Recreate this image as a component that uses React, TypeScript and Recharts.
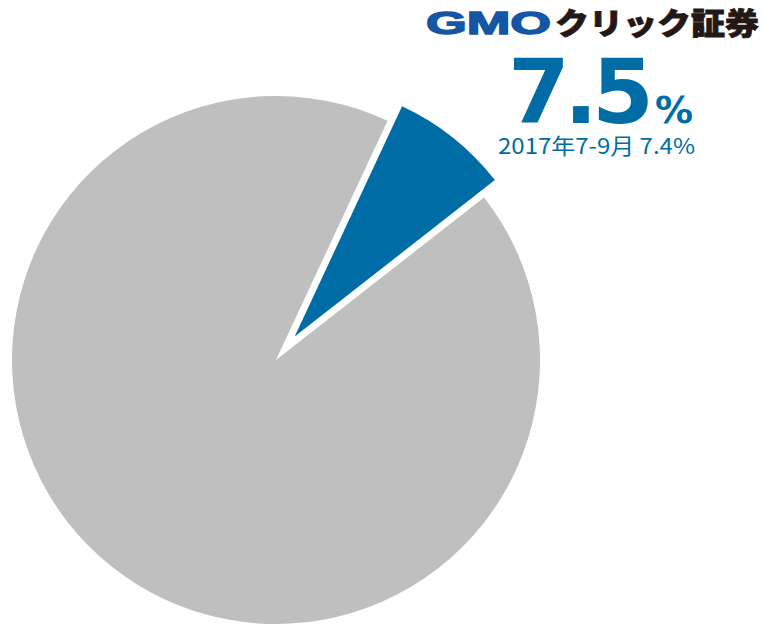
import React from 'react';
import { PieChart, Pie, Cell } from 'recharts';

const categories = ['GMOクリック証券', 'その他'];
const shareValues = [7.5, 92.5];
const headlineValue = '7.5';
const headlineUnit = '%';
const previousLabel = '2017年7-9月 7.4%';
const logoLatin = 'GMO';
const logoKana = 'クリック証券';

const BLUE = '#006ca6';
const GRAY = '#bfbfbf';
const LOGO_BLUE = '#1456a3';
const LOGO_DARK = '#231815';

const data = categories.map((name, i) => ({ name, value: shareValues[i] }));

export default function App() {
  return (
    <div style={{ position: 'absolute', left: 0, top: 0, width: 764, height: 624, background: '#fff' }}>
      <PieChart width={764} height={624} margin={{ top: 0, right: 0, bottom: 0, left: 0 }}>
        <Pie
          data={data}
          dataKey="value"
          nameKey="name"
          cx={276}
          cy={360}
          innerRadius={0}
          outerRadius={264}
          startAngle={65}
          endAngle={-295}
          stroke="none"
          isAnimationActive={false}
        >
          <Cell fill="transparent" />
          <Cell fill={GRAY} />
        </Pie>
        <Pie
          data={data}
          dataKey="value"
          nameKey="name"
          cx={294.7}
          cy={336.5}
          innerRadius={0}
          outerRadius={254}
          startAngle={65}
          endAngle={-295}
          stroke="none"
          isAnimationActive={false}
        >
          <Cell fill={BLUE} />
          <Cell fill="transparent" />
        </Pie>
      </PieChart>
      <svg width={764} height={624} style={{ position: 'absolute', left: 0, top: 0, pointerEvents: 'none' }}>
        <text
          x={426}
          y={34}
          fontFamily="Liberation Sans, Arial, sans-serif"
          fontWeight={700}
          fontSize={31}
          fill={LOGO_BLUE}
          stroke={LOGO_BLUE}
          strokeWidth={1.4}
          textLength={125}
          lengthAdjust="spacingAndGlyphs"
        >
          {logoLatin}
        </text>
        <text
          x={555}
          y={33.5}
          fontFamily="Noto Sans CJK JP, sans-serif"
          fontWeight={900}
          fontSize={30}
          fill={LOGO_DARK}
          stroke={LOGO_DARK}
          strokeWidth={0.8}
          textLength={204}
          lengthAdjust="spacingAndGlyphs"
        >
          {logoKana}
        </text>
        <text
          x={508}
          y={122.7}
          fontFamily="DejaVu Sans, Verdana, sans-serif"
          fontWeight={700}
          fontSize={89}
          fill={BLUE}
          textLength={146}
          lengthAdjust="spacing"
        >
          {headlineValue}
        </text>
        <text
          x={655}
          y={122.7}
          fontFamily="DejaVu Sans, Verdana, sans-serif"
          fontWeight={700}
          fontSize={38}
          fill={BLUE}
        >
          {headlineUnit}
        </text>
        <text
          x={498}
          y={154}
          fontFamily="Noto Sans CJK JP, sans-serif"
          fontSize={22}
          fill={BLUE}
          textLength={197}
          lengthAdjust="spacingAndGlyphs"
        >
          {previousLabel}
        </text>
      </svg>
    </div>
  );
}
